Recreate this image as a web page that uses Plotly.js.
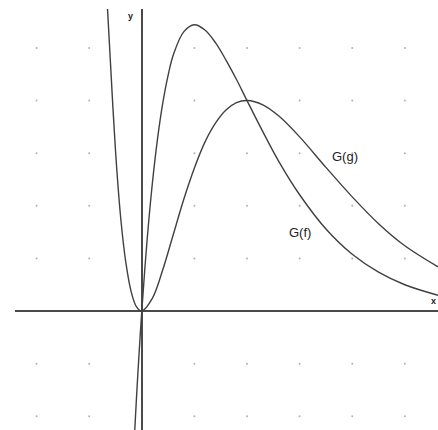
<!DOCTYPE html>
<html>
<head>
<meta charset="utf-8">
<script src="https://cdn.plot.ly/plotly-3.0.1.min.js"></script>
<style>
  html, body { margin: 0; padding: 0; background: #fff; }
  #graph { width: 438px; height: 430px; }
</style>
</head>
<body>
<div id="graph"></div>
<script>
// points (1 grid step = 1 unit)
var fX = [-0.14, -0.1, -0.05, 0, 0.1, 0.2, 0.3, 0.4, 0.5, 0.6, 0.8, 1.0, 1.2, 1.4, 1.6, 1.8, 2.0, 2.3, 2.6, 3.0, 3.5, 4.0, 4.5, 5.0, 5.63];
var fY = [-2.38, -1.63, -0.78, 0, 1.34, 2.42, 3.28, 3.96, 4.48, 4.87, 5.31, 5.44, 5.34, 5.10, 4.77, 4.40, 4.0, 3.41, 2.85, 2.21, 1.56, 1.08, 0.74, 0.50, 0.30];

var gX = [-0.66, -0.6, -0.5, -0.4, -0.3, -0.2, -0.1, 0, 0.2, 0.4, 0.6, 0.8, 1.0, 1.2, 1.4, 1.6, 1.8, 2.0, 2.3, 2.6, 3.0, 3.5, 4.0, 4.5, 5.0, 5.63];
var gY = [5.9, 4.8, 3.05, 1.76, 0.90, 0.36, 0.08, 0, 0.24, 0.79, 1.46, 2.13, 2.72, 3.21, 3.57, 3.82, 3.96, 4.0, 3.92, 3.71, 3.31, 2.73, 2.17, 1.66, 1.24, 0.84];

var gridX = [-2, -1, 1, 2, 3, 4, 5];
var gridY = [-2, -1, 1, 2, 3, 4, 5];

var dotX = [];
var dotY = [];
for (var i = 0; i < gridX.length; i++) {
    for (var j = 0; j < gridY.length; j++) {
        dotX.push(gridX[i]);
        dotY.push(gridY[j]);
    }
}

var curveStyle = { color: '#404040', width: 1.4, shape: 'spline', smoothing: 1 };

var data = [
    {
        x: dotX, y: dotY, type: 'scatter', mode: 'markers',
        marker: { size: 2, color: '#b0b0b0' }, hoverinfo: 'skip'
    },
    { x: fX, y: fY, type: 'scatter', mode: 'lines', line: curveStyle, name: 'G(f)' },
    { x: gX, y: gY, type: 'scatter', mode: 'lines', line: curveStyle, name: 'G(g)' }
];

var axisBase = {
    showgrid: false,
    showticklabels: false,
    ticks: '',
    showline: false,
    zeroline: true,
    zerolinecolor: '#4a4a4a',
    zerolinewidth: 1.5,
    fixedrange: true
};

var layout = {
    width: 438,
    height: 430,
    margin: { l: 15, r: 0, t: 9, b: 0 },
    paper_bgcolor: '#ffffff',
    plot_bgcolor: '#ffffff',
    showlegend: false,
    xaxis: Object.assign({}, axisBase, { range: [-2.41, 5.63] }),
    yaxis: Object.assign({}, axisBase, { range: [-2.26, 5.74] }),
    font: { family: 'Liberation Sans, Arial, sans-serif', color: '#222' },
    annotations: [
        { x: 3.865, y: 2.93, xref: 'x', yref: 'y', text: 'G(g)', showarrow: false, font: { size: 13 } },
        { x: 3.0, y: 1.49, xref: 'x', yref: 'y', text: 'G(f)', showarrow: false, font: { size: 13 } },
        { x: -0.22, y: 5.6, xref: 'x', yref: 'y', text: '<b>y</b>', showarrow: false, font: { size: 9 } },
        { x: 5.55, y: 0.19, xref: 'x', yref: 'y', text: '<b>x</b>', showarrow: false, font: { size: 9 } }
    ]
};

Plotly.newPlot('graph', data, layout, { staticPlot: true, displayModeBar: false });
</script>
</body>
</html>
